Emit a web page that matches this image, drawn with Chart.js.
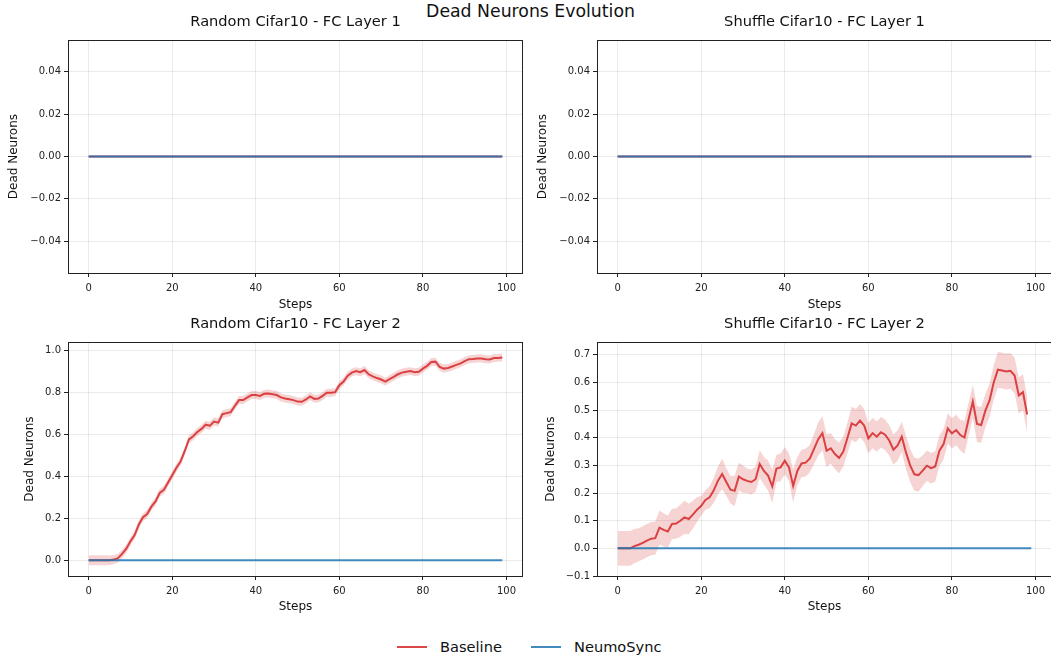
<!DOCTYPE html>
<html>
<head>
<meta charset="utf-8">
<script src="https://cdn.jsdelivr.net/npm/chart.js@4.4.0/dist/chart.umd.min.js"></script>
<style>
body{margin:0;width:1051px;height:660px;overflow:hidden;background:#fff;position:relative;font-family:"DejaVu Sans",sans-serif;color:#111}
canvas{position:absolute}
#sup{position:absolute;top:0;left:5px;width:1051px;text-align:center;font-size:17.3px;line-height:22px}
#legend{position:absolute;top:637px;left:0;width:1051px;height:20px;font-size:14.6px}
.sw{position:absolute;top:9px;width:30px;height:2px}
.lt{position:absolute;top:1px;line-height:18px}
</style>
</head>
<body>
<div id="sup">Dead Neurons Evolution</div>
<canvas id="c1" width="523" height="320" style="left:0;top:0"></canvas>
<canvas id="c2" width="522" height="320" style="left:530px;top:0"></canvas>
<canvas id="c3" width="523" height="325" style="left:0;top:300px"></canvas>
<canvas id="c4" width="522" height="325" style="left:530px;top:300px"></canvas>
<div id="legend">
  <div class="sw" style="left:397px;background:#dc4748"></div><div class="lt" style="left:440px">Baseline</div>
  <div class="sw" style="left:531px;background:#418bbf"></div><div class="lt" style="left:574px">NeumoSync</div>
</div>
<script>
// steps 0..99
var steps = Array.from({length: 100}, (_, i) => i);
var xTicks = [0, 20, 40, 60, 80, 100];

// FC layer 1: everything stays at zero
var randomL1Base = [
  0,0,0,0,0,0,0,0,0,0,0,0,0,0,0,0,0,0,0,0,
  0,0,0,0,0,0,0,0,0,0,0,0,0,0,0,0,0,0,0,0,
  0,0,0,0,0,0,0,0,0,0,0,0,0,0,0,0,0,0,0,0,
  0,0,0,0,0,0,0,0,0,0,0,0,0,0,0,0,0,0,0,0,
  0,0,0,0,0,0,0,0,0,0,0,0,0,0,0,0,0,0,0,0];
var randomL1Neumo = randomL1Base.slice();
var shuffleL1Base = randomL1Base.slice();
var shuffleL1Neumo = randomL1Base.slice();

// FC layer 2, random cifar10
var randomL2Base = [
  0.000,0.000,0.000,0.000,0.000,0.000,0.003,0.010,0.030,0.055,
  0.090,0.120,0.170,0.205,0.220,0.255,0.280,0.320,0.335,0.370,
  0.405,0.440,0.470,0.520,0.575,0.590,0.610,0.625,0.645,0.640,
  0.660,0.655,0.695,0.700,0.705,0.735,0.762,0.762,0.775,0.786,
  0.786,0.782,0.792,0.793,0.790,0.786,0.775,0.770,0.766,0.762,
  0.755,0.754,0.765,0.780,0.768,0.770,0.782,0.797,0.797,0.800,
  0.833,0.850,0.878,0.893,0.900,0.895,0.905,0.885,0.875,0.867,
  0.860,0.850,0.862,0.873,0.885,0.893,0.897,0.900,0.895,0.897,
  0.912,0.925,0.943,0.945,0.920,0.912,0.915,0.922,0.930,0.937,
  0.948,0.957,0.958,0.960,0.960,0.956,0.955,0.962,0.963,0.965];
var randomL2Spread = [
  0.024,0.024,0.024,0.024,0.024,0.023,0.022,0.021,0.020,0.019,
  0.019,0.019,0.019,0.019,0.019,0.019,0.019,0.019,0.019,0.019,
  0.019,0.019,0.019,0.019,0.019,0.019,0.019,0.019,0.019,0.019,
  0.019,0.019,0.019,0.019,0.019,0.019,0.019,0.019,0.019,0.019,
  0.019,0.019,0.019,0.019,0.019,0.019,0.019,0.019,0.019,0.019,
  0.019,0.019,0.019,0.019,0.019,0.019,0.019,0.019,0.019,0.019,
  0.019,0.019,0.019,0.019,0.019,0.019,0.019,0.019,0.019,0.019,
  0.019,0.019,0.019,0.019,0.019,0.019,0.019,0.019,0.019,0.019,
  0.019,0.019,0.019,0.019,0.019,0.019,0.019,0.019,0.019,0.019,
  0.019,0.019,0.019,0.019,0.019,0.019,0.019,0.019,0.019,0.019];
var randomL2Neumo = randomL1Base.slice();

// FC layer 2, shuffle cifar10 (baseline stops at step 98)
var shuffleL2Base = [
  0.000,0.000,0.000,0.000,0.008,0.013,0.020,0.028,0.035,0.037,
  0.075,0.067,0.061,0.088,0.090,0.100,0.112,0.106,0.122,0.140,
  0.154,0.175,0.185,0.210,0.245,0.269,0.240,0.212,0.208,0.260,
  0.250,0.244,0.240,0.250,0.305,0.280,0.263,0.224,0.289,0.293,
  0.317,0.293,0.226,0.280,0.307,0.310,0.325,0.360,0.395,0.417,
  0.353,0.362,0.341,0.327,0.350,0.400,0.452,0.444,0.462,0.444,
  0.398,0.417,0.404,0.420,0.411,0.390,0.357,0.372,0.404,0.347,
  0.300,0.268,0.265,0.281,0.299,0.290,0.296,0.353,0.377,0.434,
  0.416,0.428,0.410,0.401,0.468,0.531,0.450,0.446,0.498,0.535,
  0.600,0.646,0.643,0.640,0.642,0.625,0.553,0.565,0.484];
var shuffleL2Spread = [
  0.063,0.063,0.063,0.063,0.062,0.060,0.060,0.060,0.060,0.060,
  0.062,0.060,0.058,0.055,0.055,0.058,0.060,0.055,0.050,0.045,
  0.035,0.035,0.040,0.045,0.050,0.055,0.050,0.050,0.055,0.050,
  0.050,0.045,0.045,0.045,0.050,0.050,0.055,0.060,0.050,0.050,
  0.050,0.050,0.060,0.050,0.050,0.050,0.050,0.055,0.060,0.062,
  0.060,0.055,0.055,0.055,0.055,0.055,0.060,0.060,0.060,0.060,
  0.055,0.055,0.055,0.055,0.055,0.055,0.055,0.055,0.055,0.060,
  0.060,0.060,0.060,0.055,0.055,0.055,0.055,0.055,0.055,0.055,
  0.055,0.055,0.055,0.060,0.060,0.060,0.065,0.065,0.060,0.060,
  0.062,0.065,0.065,0.065,0.065,0.065,0.065,0.065,0.065];
var shuffleL2Neumo = randomL1Base.slice();

var redLine = 'rgba(214,39,40,0.85)';
var redBand = 'rgba(214,39,40,0.2)';
var blueLine = 'rgba(31,119,180,0.85)';

function pts(vals) {
  return vals.map((v, i) => ({x: steps[i], y: v}));
}

function minus(s) { return s.replace('-', '\u2212'); }

// top and right spines
var frame = {
  id: 'frame',
  afterDraw(c) {
    var a = c.chartArea, ctx = c.ctx;
    ctx.save();
    ctx.strokeStyle = '#222';
    ctx.lineWidth = 1;
    ctx.beginPath();
    ctx.moveTo(a.left, Math.round(a.top) + 0.5);
    ctx.lineTo(a.right, Math.round(a.top) + 0.5);
    ctx.moveTo(Math.round(a.right) - 0.5, a.top);
    ctx.lineTo(Math.round(a.right) - 0.5, a.bottom);
    ctx.stroke();
    ctx.restore();
  }
};

function panel(id, o) {
  var ds = [
    {data: pts(o.neumo), borderColor: blueLine, borderWidth: 2, pointRadius: 0, fill: false, order: 0},
    {data: pts(o.base), borderColor: redLine, borderWidth: 2, pointRadius: 0, fill: false, order: 1}
  ];
  if (o.spread) {
    ds.push({data: pts(o.base.map((v, i) => v + o.spread[i])), borderWidth: 0, pointRadius: 0,
             backgroundColor: redBand, fill: '+1', order: 2});
    ds.push({data: pts(o.base.map((v, i) => v - o.spread[i])), borderWidth: 0, pointRadius: 0,
             fill: false, order: 2});
  }
  var tickFont = {family: 'DejaVu Sans', size: 10};
  var labFont = {family: 'DejaVu Sans', size: 12};
  new Chart(document.getElementById(id), {
    type: 'line',
    data: {datasets: ds},
    options: {
      responsive: false,
      animation: false,
      layout: {padding: 0},
      plugins: {
        legend: {display: false},
        tooltip: {enabled: false},
        title: {display: true, text: o.title, color: '#111', fullSize: false,
                font: {family: 'DejaVu Sans', size: 14.6, weight: 'normal'},
                padding: {top: o.tTop, bottom: o.tBot}}
      },
      scales: {
        x: {
          type: 'linear', min: -4.95, max: 103.95,
          afterBuildTicks: s => { s.ticks = xTicks.map(v => ({value: v})); },
          afterFit: s => { s.height = o.xh; },
          ticks: {font: tickFont, color: '#222', padding: 5, maxRotation: 0, autoSkip: false},
          grid: {color: 'rgba(0,0,0,0.08)', lineWidth: 1, tickColor: '#222', tickLength: 4},
          border: {color: '#222', width: 1},
          title: {display: true, text: 'Steps', color: '#111', font: labFont, padding: {top: 0, bottom: o.sPad}}
        },
        y: {
          min: o.ymin, max: o.ymax,
          afterBuildTicks: s => { s.ticks = o.yTicks.map(v => ({value: v})); },
          afterFit: s => { s.width = o.yw; },
          ticks: {font: tickFont, color: '#222', padding: 3,
                  callback: v => minus(v.toFixed(o.dec))},
          grid: {color: 'rgba(0,0,0,0.08)', lineWidth: 1, tickColor: '#222', tickLength: 4},
          border: {color: '#222', width: 1},
          title: {display: true, text: 'Dead Neurons', color: '#111', font: labFont, padding: {top: o.lPad, bottom: 0}}
        }
      }
    },
    plugins: [frame]
  });
}

var topTicks = [-0.04, -0.02, 0, 0.02, 0.04];

panel('c1', {title: 'Random Cifar10 - FC Layer 1', base: randomL1Base, neumo: randomL1Neumo,
  ymin: -0.055, ymax: 0.055, yTicks: topTicks, dec: 2, yw: 68, xh: 47, tTop: 13, tBot: 9.6, sPad: 8, lPad: 7});
panel('c2', {title: 'Shuffle Cifar10 - FC Layer 1', base: shuffleL1Base, neumo: shuffleL1Neumo,
  ymin: -0.055, ymax: 0.055, yTicks: topTicks, dec: 2, yw: 67, xh: 47, tTop: 13, tBot: 9.6, sPad: 8, lPad: 6});
panel('c3', {title: 'Random Cifar10 - FC Layer 2', base: randomL2Base, neumo: randomL2Neumo, spread: randomL2Spread,
  ymin: -0.075, ymax: 1.038, yTicks: [0, 0.2, 0.4, 0.6, 0.8, 1.0], dec: 1, yw: 68, xh: 49, tTop: 15.3, tBot: 9.3, sPad: 11, lPad: 23});
panel('c4', {title: 'Shuffle Cifar10 - FC Layer 2', base: shuffleL2Base, neumo: shuffleL2Neumo, spread: shuffleL2Spread,
  ymin: -0.1, ymax: 0.746, yTicks: [-0.1, 0, 0.1, 0.2, 0.3, 0.4, 0.5, 0.6, 0.7], dec: 1, yw: 67, xh: 49, tTop: 15.3, tBot: 9.3, sPad: 11, lPad: 14});
</script>
</body>
</html>
